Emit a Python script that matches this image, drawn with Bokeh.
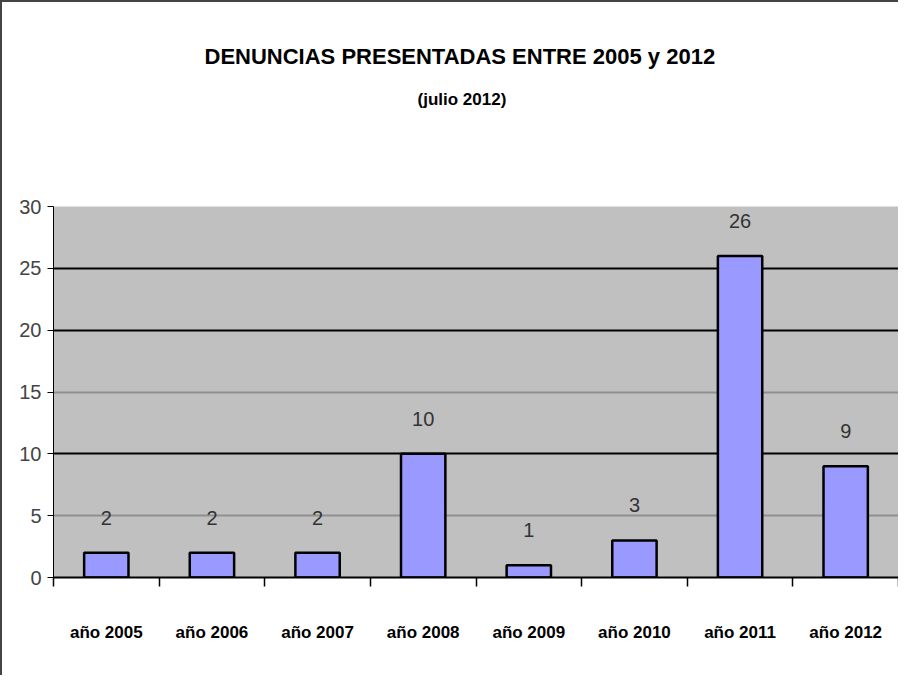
from bokeh.plotting import figure
from bokeh.models import ColumnDataSource, FixedTicker, Grid, Range1d, Title
from bokeh.core.properties import value
from bokeh.embed import file_html
from bokeh.resources import INLINE

# ---- data ----
categories = ["año 2005", "año 2006", "año 2007", "año 2008",
              "año 2009", "año 2010", "año 2011", "año 2012"]
counts = [2, 2, 2, 10, 1, 3, 26, 9]
y_ticks = [0, 5, 10, 15, 20, 25, 30]
dark_grid = [10, 20, 25]
light_grid = [5, 15, 30]
title_text = "DENUNCIAS PRESENTADAS ENTRE 2005 y 2012"
subtitle_text = "(julio 2012)"

xs = [i + 0.5 for i in range(len(categories))]
source = ColumnDataSource(dict(x=xs, count=counts, label=[str(c) for c in counts]))

FONT = "Liberation Sans"

p = figure(width=898, height=675,
           x_range=Range1d(0, len(categories)), y_range=Range1d(0, max(y_ticks)),
           output_backend="svg", toolbar_location=None, title=None,
           min_border_left=51, min_border_right=2, min_border_bottom=100,
           min_border_top=204)

p.styles = {"border-left": "2px solid #444444", "border-top": "2px solid #444444"}

p.background_fill_color = "#C0C0C0"
p.border_fill_color = "white"
p.outline_line_color = None

# titles: a blank spacer nearest the frame, then subtitle, then main title
spacer = Title(text=" ", align="left", standoff=80,
               text_font=FONT, text_font_size="10px")
sub = Title(text=subtitle_text, align="left", offset=364, standoff=10,
            text_font=FONT, text_font_size="17px",
            text_font_style="bold", text_color="black")
main = Title(text=title_text, align="left", offset=151, standoff=27,
             text_font=FONT, text_font_size="22px",
             text_font_style="bold", text_color="black")
p.add_layout(spacer, "above")
p.add_layout(sub, "above")
p.add_layout(main, "above")

# grids
p.xgrid.visible = False
p.ygrid.ticker = FixedTicker(ticks=dark_grid)
p.ygrid.grid_line_color = "black"
p.ygrid.grid_line_width = 2
g2 = Grid(dimension=1, ticker=FixedTicker(ticks=light_grid),
          grid_line_color="#8f8f8f", grid_line_width=2)
p.add_layout(g2)

# bars
p.vbar(x="x", top="count", bottom=0, width=0.42, source=source,
       fill_color="#9999FF", line_color="black", line_width=2.5)

# value labels
p.text(x="x", y="count", text="label", source=source,
       text_align="center", text_baseline="middle", y_offset=-35,
       text_font=value(FONT), text_font_size="20px", text_color="#333333")

# y axis
p.yaxis.ticker = FixedTicker(ticks=y_ticks)
p.yaxis.major_tick_out = 6
p.yaxis.major_tick_in = 0
p.yaxis.minor_tick_line_color = None
p.yaxis.axis_line_color = "black"
p.yaxis.major_tick_line_color = "black"
p.yaxis.major_label_text_font = FONT
p.yaxis.major_label_text_font_size = "20px"
p.yaxis.major_label_text_color = "#444444"
p.yaxis.major_label_standoff = 6

# x axis
p.xaxis.ticker = FixedTicker(ticks=xs, minor_ticks=list(range(len(categories) + 1)))
p.xaxis.major_label_overrides = {x: c for x, c in zip(xs, categories)}
p.xaxis.major_tick_out = 0
p.xaxis.major_tick_in = 0
p.xaxis.minor_tick_out = 9
p.xaxis.minor_tick_in = 0
p.xaxis.minor_tick_line_color = "black"
p.xaxis.minor_tick_line_width = 1.5
p.xaxis.axis_line_color = "black"
p.xaxis.axis_line_width = 2
p.xaxis.major_label_standoff = 36
p.xaxis.major_label_text_font = FONT
p.xaxis.major_label_text_font_size = "17px"
p.xaxis.major_label_text_font_style = "bold"
p.xaxis.major_label_text_color = "black"

open("out.html", "w").write(file_html(p, INLINE))
